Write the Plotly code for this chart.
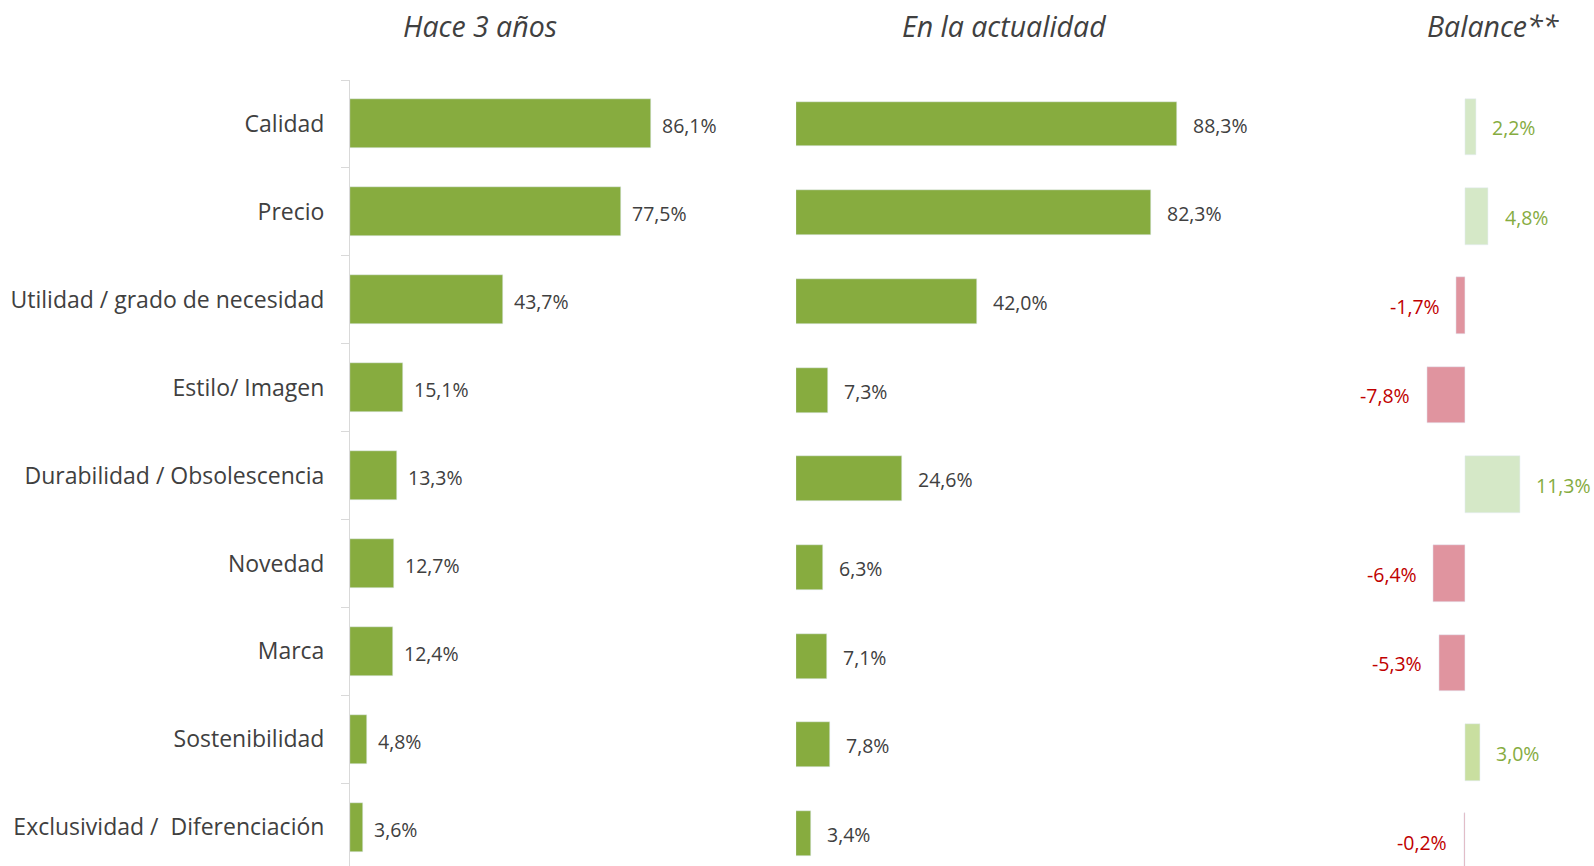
import plotly.graph_objects as go

# Atributos valorados en la compra (porcentaje de menciones)
categorias = [
    "Calidad",
    "Precio",
    "Utilidad / grado de necesidad",
    "Estilo/ Imagen",
    "Durabilidad / Obsolescencia",
    "Novedad",
    "Marca",
    "Sostenibilidad",
    "Exclusividad /  Diferenciación",
]
hace_3_anos = [86.1, 77.5, 43.7, 15.1, 13.3, 12.7, 12.4, 4.8, 3.6]
actualidad = [88.3, 82.3, 42.0, 7.3, 24.6, 6.3, 7.1, 7.8, 3.4]
balance = [2.2, 4.8, -1.7, -7.8, 11.3, -6.4, -5.3, 3.0, -0.2]

titulos = ["Hace 3 años", "En la actualidad", "Balance**"]

VERDE = "#87AC3F"
VERDE_CLARO = "#D5E8C7"
VERDE_MEDIO = "#C9DFA0"
ROSA = "#E0949F"
TXT_POS = "#86AC3F"
TXT_NEG = "#C00000"
GRIS = "#404040"
FUENTE = "Open Sans, Noto Sans, sans-serif"

W, H = 1594, 866


def fmt(v):
    return f"{v:.1f}".replace(".", ",") + "%"


colores_balance = []
for i, v in enumerate(balance):
    if v < 0:
        colores_balance.append(ROSA)
    elif i == 7:
        colores_balance.append(VERDE_MEDIO)
    else:
        colores_balance.append(VERDE_CLARO)

fig = go.Figure()
fig.add_trace(go.Bar(x=hace_3_anos, y=categorias, orientation="h", marker_color=VERDE,
                     width=0.557, xaxis="x", yaxis="y", hoverinfo="skip"))
fig.add_trace(go.Bar(x=actualidad, y=categorias, orientation="h", marker_color=VERDE,
                     width=0.507, xaxis="x2", yaxis="y2", hoverinfo="skip"))
fig.add_trace(go.Bar(x=balance, y=categorias, orientation="h", marker_color=colores_balance,
                     width=0.634, xaxis="x3", yaxis="y3", hoverinfo="skip"))

anotaciones = []
for cat, v in zip(categorias, hace_3_anos):
    anotaciones.append(dict(x=v, y=cat, xref="x", yref="y", text=fmt(v), showarrow=False,
                            xanchor="left", xshift=9, yshift=-2,
                            font=dict(family=FUENTE, size=19.5, color=GRIS)))
for cat, v in zip(categorias, actualidad):
    anotaciones.append(dict(x=v, y=cat, xref="x2", yref="y2", text=fmt(v), showarrow=False,
                            xanchor="left", xshift=14, yshift=-1,
                            font=dict(family=FUENTE, size=19.5, color=GRIS)))
for cat, v in zip(categorias, balance):
    pos = v >= 0
    anotaciones.append(dict(x=v, y=cat, xref="x3", yref="y3", text=fmt(v), showarrow=False,
                            xanchor="left" if pos else "right", xshift=14 if pos else -15,
                            yshift=-1,
                            font=dict(family=FUENTE, size=19.5, color=TXT_POS if pos else TXT_NEG)))

centros_titulo = [480, 1004, 1493]
for t, cx in zip(titulos, centros_titulo):
    anotaciones.append(dict(x=cx / W, y=1 - 26 / H, xref="paper", yref="paper", text=t,
                            showarrow=False, xanchor="center", yanchor="middle",
                            font=dict(family=FUENTE, size=28.5, color=GRIS, style="italic")))

top = 1 - 80 / H


def eje_y(rango, **kw):
    base = dict(type="category", categoryorder="array", categoryarray=categorias,
                range=rango, domain=[0, top], showgrid=False, zeroline=False,
                fixedrange=True)
    base.update(kw)
    return base


def eje_x(x0, x1, rango):
    return dict(domain=[x0 / W, x1 / W], range=rango, visible=False, fixedrange=True)


fig.update_layout(
    width=W, height=H,
    margin=dict(l=0, r=0, t=0, b=0),
    paper_bgcolor="white", plot_bgcolor="white",
    showlegend=False,
    bargap=0,
    font=dict(family=FUENTE, color=GRIS),
    xaxis=eje_x(350, 699.6, [0, 100]),
    xaxis2=eje_x(796, 1227.5, [0, 100]),
    xaxis3=eje_x(1406.2, 1528.7, [-12, 13]),
    yaxis=eje_y([8.442, -0.5], anchor="x", showline=True, linecolor="#D9D9D9", linewidth=1,
                ticks="outside", tickson="boundaries", ticklen=8, tickcolor="#D9D9D9",
                ticklabelstandoff=20,
                tickfont=dict(family=FUENTE, size=23, color=GRIS)),
    yaxis2=eje_y([8.365, -0.496], anchor="x2", visible=False),
    yaxis3=eje_y([8.272, -0.524], anchor="x3", visible=False),
    annotations=anotaciones,
)

fig.write_html("out.html")
